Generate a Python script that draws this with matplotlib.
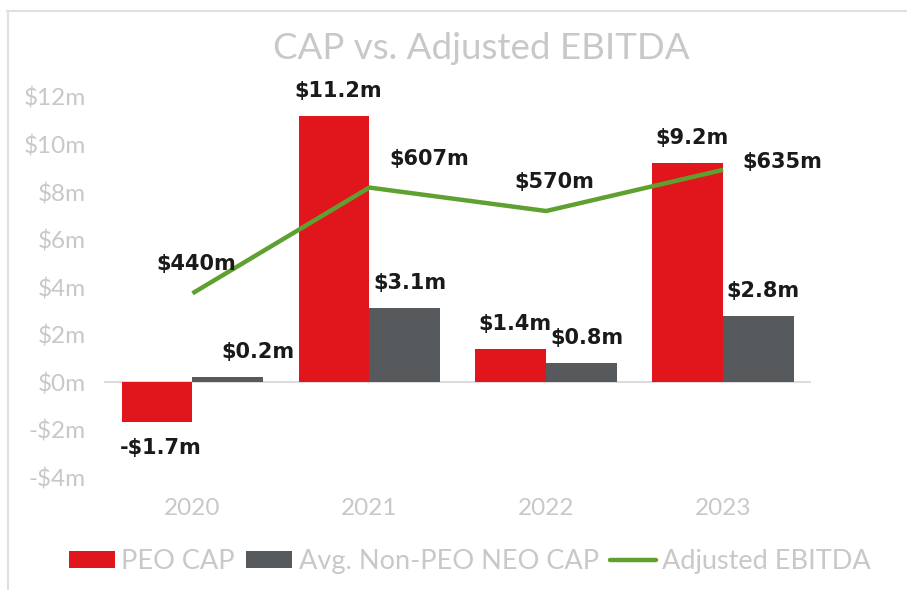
import matplotlib.pyplot as plt
import numpy as np
from matplotlib.lines import Line2D

# chart data
years = ["2020", "2021", "2022", "2023"]
peo_cap = [-1.7, 11.2, 1.4, 9.2]
neo_cap = [0.2, 3.1, 0.8, 2.8]
ebitda = [440, 607, 570, 635]
y_ticks = [-4, -2, 0, 2, 4, 6, 8, 10, 12]

RED = "#e1161d"
GREY = "#575a5d"
GREEN = "#5ea130"
LIGHT = "#c8c8c8"

plt.rcParams['font.family'] = ['Lato', 'DejaVu Sans']

fig = plt.figure(figsize=(9.07, 5.90), dpi=100)
ax = fig.add_axes([0.1147, 0.1915, 0.78, 0.6441])
x = np.arange(len(years))
w = 0.4

b1 = ax.bar(x - w / 2, peo_cap, w, color=RED, label="PEO CAP")
b2 = ax.bar(x + w / 2, neo_cap, w, color=GREY, label="Avg. Non-PEO NEO CAP")
ax.axhline(0, color="#dcdcdc", lw=1.5, zorder=0)

ax.set_xlim(-0.5, len(years) - 0.5)
ax.set_ylim(-4, 12)
ax.set_yticks(y_ticks)
ax.set_yticklabels([f"-${-v}m" if v < 0 else f"${v}m" for v in y_ticks])
ax.set_xticks(x)
ax.set_xticklabels(years)
ax.tick_params(length=0, labelsize=17.5, labelcolor=LIGHT)
ax.tick_params(axis='x', pad=15)
ax.tick_params(axis='y', pad=13)
for s in ax.spines.values():
    s.set_visible(False)

ax2 = ax.twinx()
ax2.plot(x, ebitda, color=GREEN, lw=3.2, solid_capstyle='butt', label="Adjusted EBITDA")
ax2.set_ylim(150, 750)
ax2.axis('off')

lab_kw = dict(textcoords='offset pixels', ha='center', va='center',
              fontsize=15, fontweight='bold', family='DejaVu Sans', color='#1a1a1a')

def fmt(v):
    return f"-${-v:.1f}m" if v < 0 else f"${v:.1f}m"

for xi, v in zip(x - w / 2, peo_cap):
    dy = -26 if v < 0 else 25
    ax.annotate(fmt(v), (xi, v), xytext=(4, dy), **lab_kw)
for i, (xi, v) in enumerate(zip(x + w / 2, neo_cap)):
    dx = 30 if i == 0 else 5
    ax.annotate(fmt(v), (xi, v), xytext=(dx, 25), **lab_kw)

line_off = [(4, 29), (60, 29), (8, 29), (59, 8)]
for xi, v, off in zip(x, ebitda, line_off):
    ax2.annotate(f"${v}m", (xi, v), xytext=off, **lab_kw)

fig.text(0.531, 0.917, "CAP vs. Adjusted EBITDA", ha='center', va='center',
         fontsize=26.5, color=LIGHT)

handles = [b1, b2, Line2D([], [], color=GREEN, lw=3.2, solid_capstyle='round')]
leg = fig.legend(handles, ["PEO CAP", "Avg. Non-PEO NEO CAP", "Adjusted EBITDA"],
                 loc='center', bbox_to_anchor=(0.518, 0.048), ncol=3, frameon=False,
                 fontsize=19.5, handlelength=1.7, handleheight=0.55, handletextpad=0.25,
                 columnspacing=0.4, borderaxespad=0)
for t in leg.get_texts():
    t.set_color(LIGHT)

# thin frame lines along the top and left edge
fig.add_artist(Line2D([7 / 907, 1], [1 - 10.5 / 590] * 2, color="#e0e0e0", lw=1.5))
fig.add_artist(Line2D([7.5 / 907] * 2, [0, 1 - 10.5 / 590], color="#e0e0e0", lw=1.5))

fig.savefig("out.png", dpi=100, facecolor='white')
